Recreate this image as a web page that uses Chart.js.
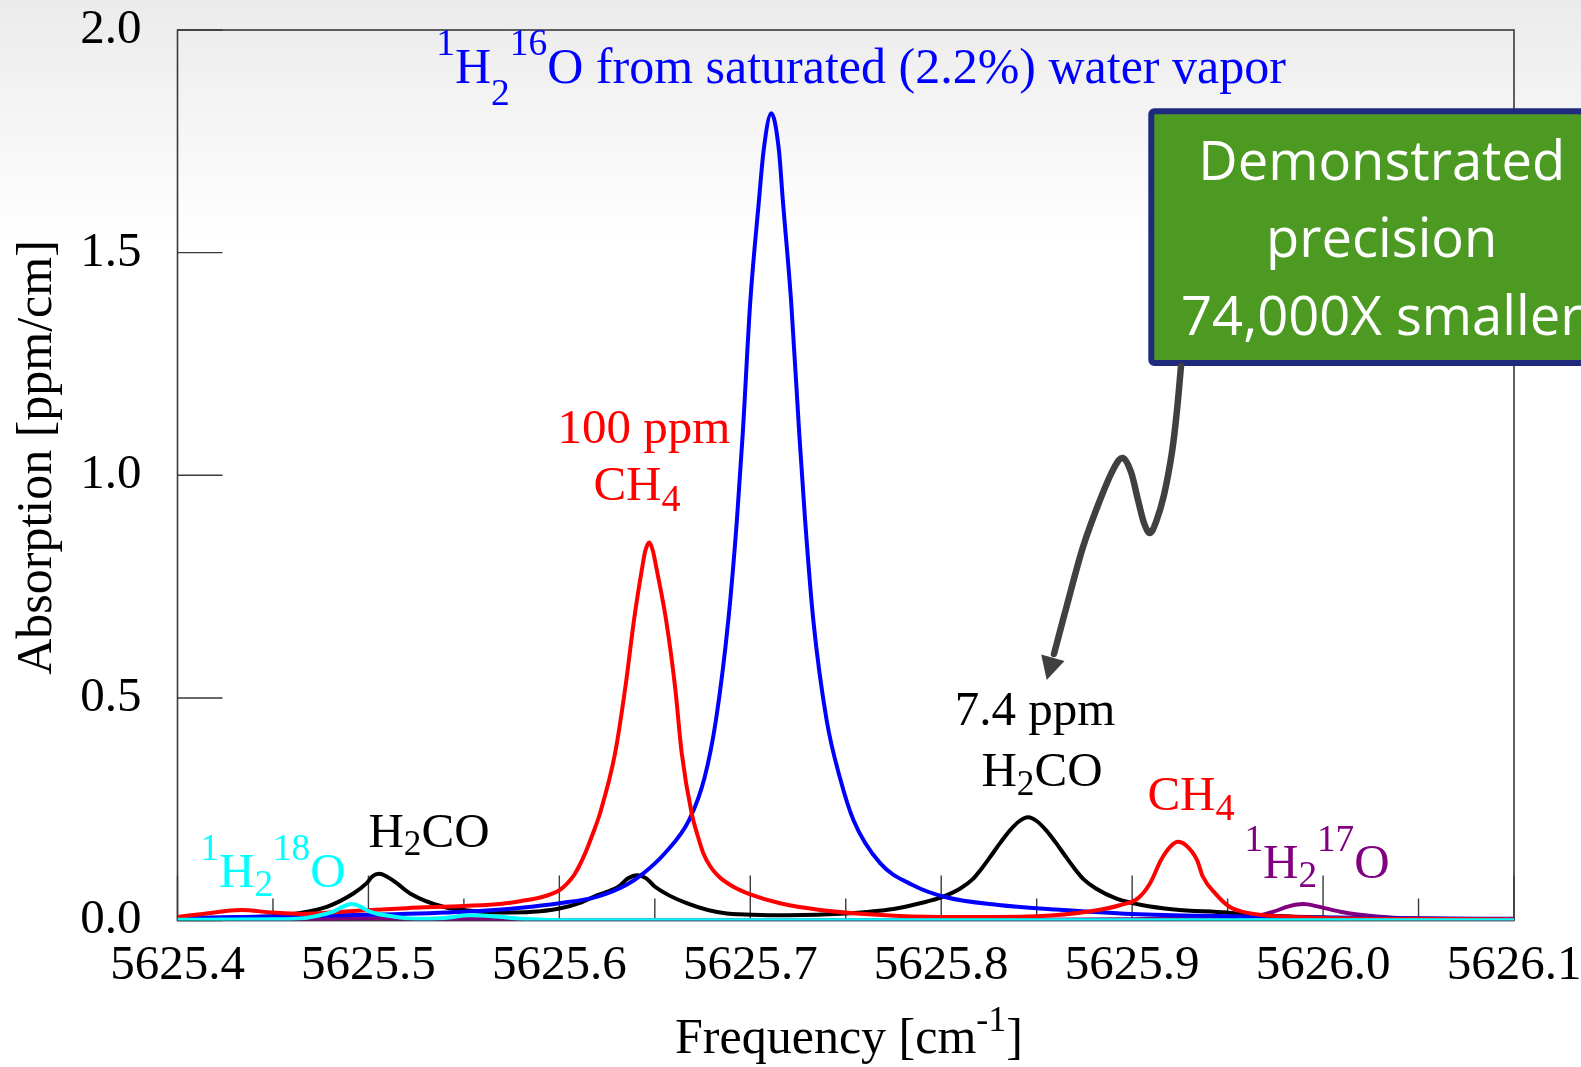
<!DOCTYPE html>
<html>
<head>
<meta charset="utf-8">
<script src="https://cdn.jsdelivr.net/npm/chart.js@4.4.1/dist/chart.umd.min.js"></script>
<style>
  html, body { margin: 0; padding: 0; }
  body {
    width: 1581px; height: 1067px; overflow: hidden;
    background: linear-gradient(to bottom, #ebebeb 0px, #f4f4f4 110px, #ffffff 245px, #ffffff 1067px);
  }
  canvas { display: block; }
</style>
</head>
<body>
<canvas id="spectrum" width="1581" height="1067"></canvas>
<script>
// Axis ticks
const freqTicks = [5625.4, 5625.5, 5625.6, 5625.7, 5625.8, 5625.9, 5626.0, 5626.1];
const freqMinorTicks = [5625.45, 5625.55, 5625.65, 5625.75, 5625.85, 5625.95, 5626.05];
const absTicks = [0, 0.5, 1.0, 1.5, 2.0];

// 1H2 16O, saturated (2.2%) water vapor
const waterFreq = [5625.400, 5625.450, 5625.500, 5625.550, 5625.580, 5625.600, 5625.620, 5625.635, 5625.644, 5625.655,
  5625.668, 5625.676, 5625.682, 5625.6885, 5625.693, 5625.696, 5625.700, 5625.7046, 5625.707, 5625.711,
  5625.715, 5625.717, 5625.7214, 5625.7257, 5625.7287, 5625.733, 5625.740, 5625.747, 5625.754, 5625.768,
  5625.785, 5625.802, 5625.830, 5625.860, 5625.900, 5625.950, 5626.000, 5626.050, 5626.100];
const waterAbs = [0.006, 0.009, 0.013, 0.020, 0.029, 0.039, 0.054, 0.080, 0.106, 0.150,
  0.226, 0.320, 0.450, 0.675, 0.900, 1.090, 1.390, 1.620, 1.730, 1.813,
  1.730, 1.620, 1.390, 1.090, 0.900, 0.675, 0.450, 0.320, 0.226, 0.129,
  0.080, 0.053, 0.035, 0.025, 0.015, 0.010, 0.007, 0.005, 0.004];

// CH4, 100 ppm
const ch4Freq = [5625.400, 5625.415, 5625.433, 5625.450, 5625.465, 5625.490, 5625.520, 5625.550, 5625.570, 5625.580,
  5625.590, 5625.596, 5625.6003, 5625.604, 5625.608, 5625.6135, 5625.6175, 5625.6213, 5625.6292, 5625.6346,
  5625.6391, 5625.6432, 5625.645, 5625.6471, 5625.649, 5625.651, 5625.6559, 5625.6606, 5625.6641, 5625.6693,
  5625.6725, 5625.6755, 5625.679, 5625.6835, 5625.6911, 5625.700, 5625.7156, 5625.7366, 5625.7663, 5625.800,
  5625.850, 5625.880, 5625.894, 5625.903, 5625.9094, 5625.915, 5625.920, 5625.924, 5625.928, 5625.934,
  5625.937, 5625.9435, 5625.951, 5625.962, 5625.980, 5626.000, 5626.050, 5626.100];
const ch4Abs = [0.008, 0.016, 0.024, 0.018, 0.015, 0.021, 0.028, 0.033, 0.038, 0.044,
  0.052, 0.060, 0.069, 0.083, 0.104, 0.151, 0.195, 0.241, 0.376, 0.525,
  0.675, 0.788, 0.830, 0.849, 0.830, 0.788, 0.675, 0.525, 0.376, 0.241,
  0.190, 0.150, 0.122, 0.099, 0.076, 0.059, 0.039, 0.024, 0.013, 0.008,
  0.010, 0.022, 0.035, 0.050, 0.084, 0.135, 0.166, 0.177, 0.170, 0.136,
  0.099, 0.061, 0.031, 0.016, 0.009, 0.006, 0.004, 0.003];

// H2CO, 7.4 ppm
const h2coFreq = [5625.400, 5625.430, 5625.450, 5625.4624, 5625.4782, 5625.4921, 5625.4991, 5625.502, 5625.5057, 5625.5095,
  5625.5148, 5625.5218, 5625.5392, 5625.5585, 5625.575, 5625.590, 5625.600, 5625.6108, 5625.620, 5625.6309,
  5625.636, 5625.6409, 5625.6455, 5625.6501, 5625.6667, 5625.6877, 5625.720, 5625.750, 5625.775, 5625.790,
  5625.800, 5625.810, 5625.8165, 5625.821, 5625.826, 5625.831, 5625.8359, 5625.8405, 5625.8455, 5625.8505,
  5625.8551, 5625.860, 5625.865, 5625.870, 5625.8745, 5625.881, 5625.8915, 5625.905, 5625.922, 5625.9496,
  5625.962, 5626.000, 5626.050, 5626.100];
const h2coAbs = [0.004, 0.007, 0.010, 0.016, 0.031, 0.061, 0.084, 0.099, 0.105, 0.099,
  0.084, 0.061, 0.031, 0.020, 0.018, 0.021, 0.027, 0.040, 0.057, 0.076,
  0.095, 0.102, 0.095, 0.076, 0.039, 0.016, 0.012, 0.016, 0.026, 0.040,
  0.052, 0.072, 0.093, 0.116, 0.145, 0.175, 0.202, 0.222, 0.232, 0.222,
  0.202, 0.175, 0.145, 0.116, 0.093, 0.072, 0.050, 0.035, 0.025, 0.018,
  0.013, 0.007, 0.004, 0.003];

// 1H2 18O
const h2o18Freq = [5625.400, 5625.450, 5625.465, 5625.4711, 5625.4816, 5625.487, 5625.4912, 5625.4955, 5625.5008, 5625.513,
  5625.525, 5625.540, 5625.553, 5625.565, 5625.580, 5625.600, 5625.700, 5625.800, 5625.900, 5626.000, 5626.100];
const h2o18Abs = [0.002, 0.003, 0.005, 0.009, 0.020, 0.032, 0.037, 0.032, 0.020, 0.009,
  0.004, 0.006, 0.012, 0.010, 0.004, 0.001, 0.001, 0.001, 0.001, 0.001, 0.001];

// 1H2 17O
const h2o17Freq = [5625.430, 5625.470, 5625.500, 5625.530, 5625.560, 5625.590, 5625.700, 5625.800, 5625.900, 5625.940,
  5625.9636, 5625.974, 5625.982, 5625.9897, 5625.997, 5626.009, 5626.0282, 5626.050, 5626.080, 5626.100];
const h2o17Abs = [0.001, 0.003, 0.005, 0.003, 0.004, 0.001, 0.001, 0.001, 0.003, 0.006,
  0.009, 0.020, 0.032, 0.037, 0.032, 0.020, 0.009, 0.004, 0.002, 0.001];

const SERIF = '"Liberation Serif", "Times New Roman", serif';
const SANS = '"Open Sans", "Noto Sans", sans-serif';
const TEXT_SIZE = 49;

const points = (xs, ys) => xs.map((x, i) => ({ x, y: ys[i] }));
const series = (label, xs, ys, color, order) => ({
  label, data: points(xs, ys), borderColor: color, backgroundColor: color,
  borderWidth: 4, pointRadius: 0, cubicInterpolationMode: 'monotone', fill: false, order
});

// Text with superscript / subscript runs: parts = [[text, 'sup'|'sub'|''], ...]
function richText(ctx, parts, cx, by, color, o = {}) {
  const size = o.size || TEXT_SIZE;
  const small = size * (o.scale || 0.72);
  const rise = o.rise != null ? o.rise : size * 0.56;
  const drop = o.drop != null ? o.drop : size * 0.2;
  const fontFor = k => `${k ? small : size}px ${SERIF}`;
  let w = 0;
  for (const [t, k] of parts) { ctx.font = fontFor(k); w += ctx.measureText(t).width; }
  let x = cx - w / 2;
  ctx.fillStyle = color;
  ctx.textAlign = 'left';
  ctx.textBaseline = 'alphabetic';
  for (const [t, k] of parts) {
    ctx.font = fontFor(k);
    const y = k === 'sup' ? by - rise : k === 'sub' ? by + drop : by;
    ctx.fillText(t, x, y);
    x += ctx.measureText(t).width;
  }
}

function smoothPath(ctx, pts) {
  ctx.moveTo(pts[0][0], pts[0][1]);
  for (let i = 0; i < pts.length - 1; i++) {
    const p0 = pts[i - 1] || pts[i], p1 = pts[i], p2 = pts[i + 1], p3 = pts[i + 2] || p2;
    ctx.bezierCurveTo(
      p1[0] + (p2[0] - p0[0]) / 6, p1[1] + (p2[1] - p0[1]) / 6,
      p2[0] - (p3[0] - p1[0]) / 6, p2[1] - (p3[1] - p1[1]) / 6,
      p2[0], p2[1]);
  }
}

// Plot frame and inward tick marks, drawn beneath the spectra
const framePlugin = {
  id: 'frame',
  beforeDatasetsDraw(chart) {
    const { ctx, chartArea: { left, right, top, bottom } } = chart;
    const xs = chart.scales.x, ys = chart.scales.y;
    ctx.save();
    ctx.strokeStyle = '#3a3a3a';
    ctx.lineWidth = 1.6;
    ctx.strokeRect(left, top, right - left, bottom - top);
    ctx.lineWidth = 1.4;
    ctx.beginPath();
    for (const v of freqTicks) { const px = xs.getPixelForValue(v); ctx.moveTo(px, bottom); ctx.lineTo(px, bottom - 45); }
    for (const v of freqMinorTicks) { const px = xs.getPixelForValue(v); ctx.moveTo(px, bottom); ctx.lineTo(px, bottom - 22); }
    for (const v of absTicks) { const py = ys.getPixelForValue(v); ctx.moveTo(left, py); ctx.lineTo(left + 45, py); }
    ctx.stroke();
    ctx.restore();
  }
};

// Axis titles, species labels and the precision call-out
const labelPlugin = {
  id: 'labels',
  afterDraw(chart) {
    const ctx = chart.ctx;
    ctx.save();

    // axis titles
    ctx.save();
    ctx.translate(51, 457.5);
    ctx.rotate(-Math.PI / 2);
    ctx.font = `50px ${SERIF}`;
    ctx.fillStyle = '#000';
    ctx.textAlign = 'center';
    ctx.textBaseline = 'alphabetic';
    ctx.fillText('Absorption [ppm/cm]', 0, 0);
    ctx.restore();
    richText(ctx, [['Frequency [cm', ''], ['-1', 'sup'], [']', '']], 849, 1053, '#000', { size: 50, rise: 22 });

    // species labels
    richText(ctx, [['1', 'sup'], ['H', ''], ['2', 'sub'], ['16', 'sup'], ['O from saturated (2.2%) water vapor', '']],
      861, 83, '#0000ff', { size: 50, scale: 0.75, rise: 28, drop: 22 });
    richText(ctx, [['100 ppm', '']], 644, 443, '#ff0000');
    richText(ctx, [['CH', ''], ['4', 'sub']], 637, 500, '#ff0000', { drop: 11, scale: 0.78 });
    richText(ctx, [['7.4 ppm', '']], 1035, 725, '#000');
    richText(ctx, [['H', ''], ['2', 'sub'], ['CO', '']], 1042, 786, '#000', { drop: 9 });
    richText(ctx, [['CH', ''], ['4', 'sub']], 1191, 810, '#ff0000', { drop: 10, scale: 0.78 });
    richText(ctx, [['1', 'sup'], ['H', ''], ['2', 'sub'], ['17', 'sup'], ['O', '']], 1317, 878, '#800080', { rise: 27, drop: 9, scale: 0.76 });
    richText(ctx, [['1', 'sup'], ['H', ''], ['2', 'sub'], ['18', 'sup'], ['O', '']], 273, 887, '#00ffff', { rise: 27, drop: 9, scale: 0.76 });
    richText(ctx, [['H', ''], ['2', 'sub'], ['CO', '']], 429, 847, '#000', { drop: 8 });

    // call-out box
    ctx.beginPath();
    ctx.roundRect(1151.3, 111.3, 470, 251.7, 3);
    ctx.fillStyle = '#4c9a22';
    ctx.fill();
    ctx.lineWidth = 6;
    ctx.strokeStyle = '#1f2a7c';
    ctx.stroke();
    ctx.font = `100px ${SANS}`;
    const boxSize = 100 * 367 / ctx.measureText('Demonstrated').width;
    ctx.font = `${boxSize}px ${SANS}`;
    ctx.fillStyle = '#ffffff';
    ctx.textAlign = 'center';
    ctx.textBaseline = 'alphabetic';
    ctx.fillText('Demonstrated', 1381.7, 180);
    ctx.fillText('precision', 1381.7, 256.7);
    ctx.fillText('74,000X smaller', 1381.7, 335);

    // call-out arrow
    ctx.beginPath();
    smoothPath(ctx, [[1181, 366], [1177, 410], [1172, 452], [1164, 495], [1156, 522], [1150, 533], [1144, 523],
      [1138, 500], [1131, 472], [1123, 458], [1114, 468], [1100, 500], [1083, 547], [1067, 605], [1054, 654]]);
    ctx.strokeStyle = '#404040';
    ctx.lineWidth = 6.5;
    ctx.lineCap = 'round';
    ctx.lineJoin = 'round';
    ctx.stroke();
    ctx.beginPath();
    ctx.moveTo(1046.7, 680);
    ctx.lineTo(1041.2, 654.5);
    ctx.lineTo(1064.5, 661);
    ctx.closePath();
    ctx.fillStyle = '#404040';
    ctx.fill();

    ctx.restore();
  }
};

new Chart(document.getElementById('spectrum'), {
  type: 'line',
  data: {
    datasets: [
      series('1H2 18O', h2o18Freq, h2o18Abs, '#00ffff', 0),
      series('CH4', ch4Freq, ch4Abs, '#ff0000', 1),
      series('1H2 16O', waterFreq, waterAbs, '#0000ff', 2),
      series('H2CO', h2coFreq, h2coAbs, '#000000', 3),
      series('1H2 17O', h2o17Freq, h2o17Abs, '#800080', 4)
    ]
  },
  options: {
    responsive: false,
    animation: false,
    devicePixelRatio: 1,
    layout: { padding: { left: 0, top: 30, right: 67, bottom: 0 } },
    plugins: { legend: { display: false }, tooltip: { enabled: false } },
    scales: {
      x: {
        type: 'linear', min: 5625.4, max: 5626.1,
        grid: { display: false, drawTicks: false },
        border: { display: false },
        afterBuildTicks: s => { s.ticks = freqTicks.map(v => ({ value: v })); },
        afterFit: s => { s.height = 146.4; s.paddingLeft = 0; s.paddingRight = 0; },
        ticks: {
          font: { family: SERIF, size: TEXT_SIZE }, color: '#000', padding: 16,
          maxRotation: 0, autoSkip: false, callback: v => v.toFixed(1)
        }
      },
      y: {
        type: 'linear', min: 0, max: 2,
        grid: { display: false, drawTicks: false },
        border: { display: false },
        afterBuildTicks: s => { s.ticks = absTicks.map(v => ({ value: v })); },
        afterFit: s => { s.width = 177.5; s.paddingTop = 0; s.paddingBottom = 0; },
        ticks: {
          font: { family: SERIF, size: TEXT_SIZE }, color: '#000', padding: 36,
          callback: v => v.toFixed(1)
        }
      }
    }
  },
  plugins: [framePlugin, labelPlugin]
});
</script>
</body>
</html>
